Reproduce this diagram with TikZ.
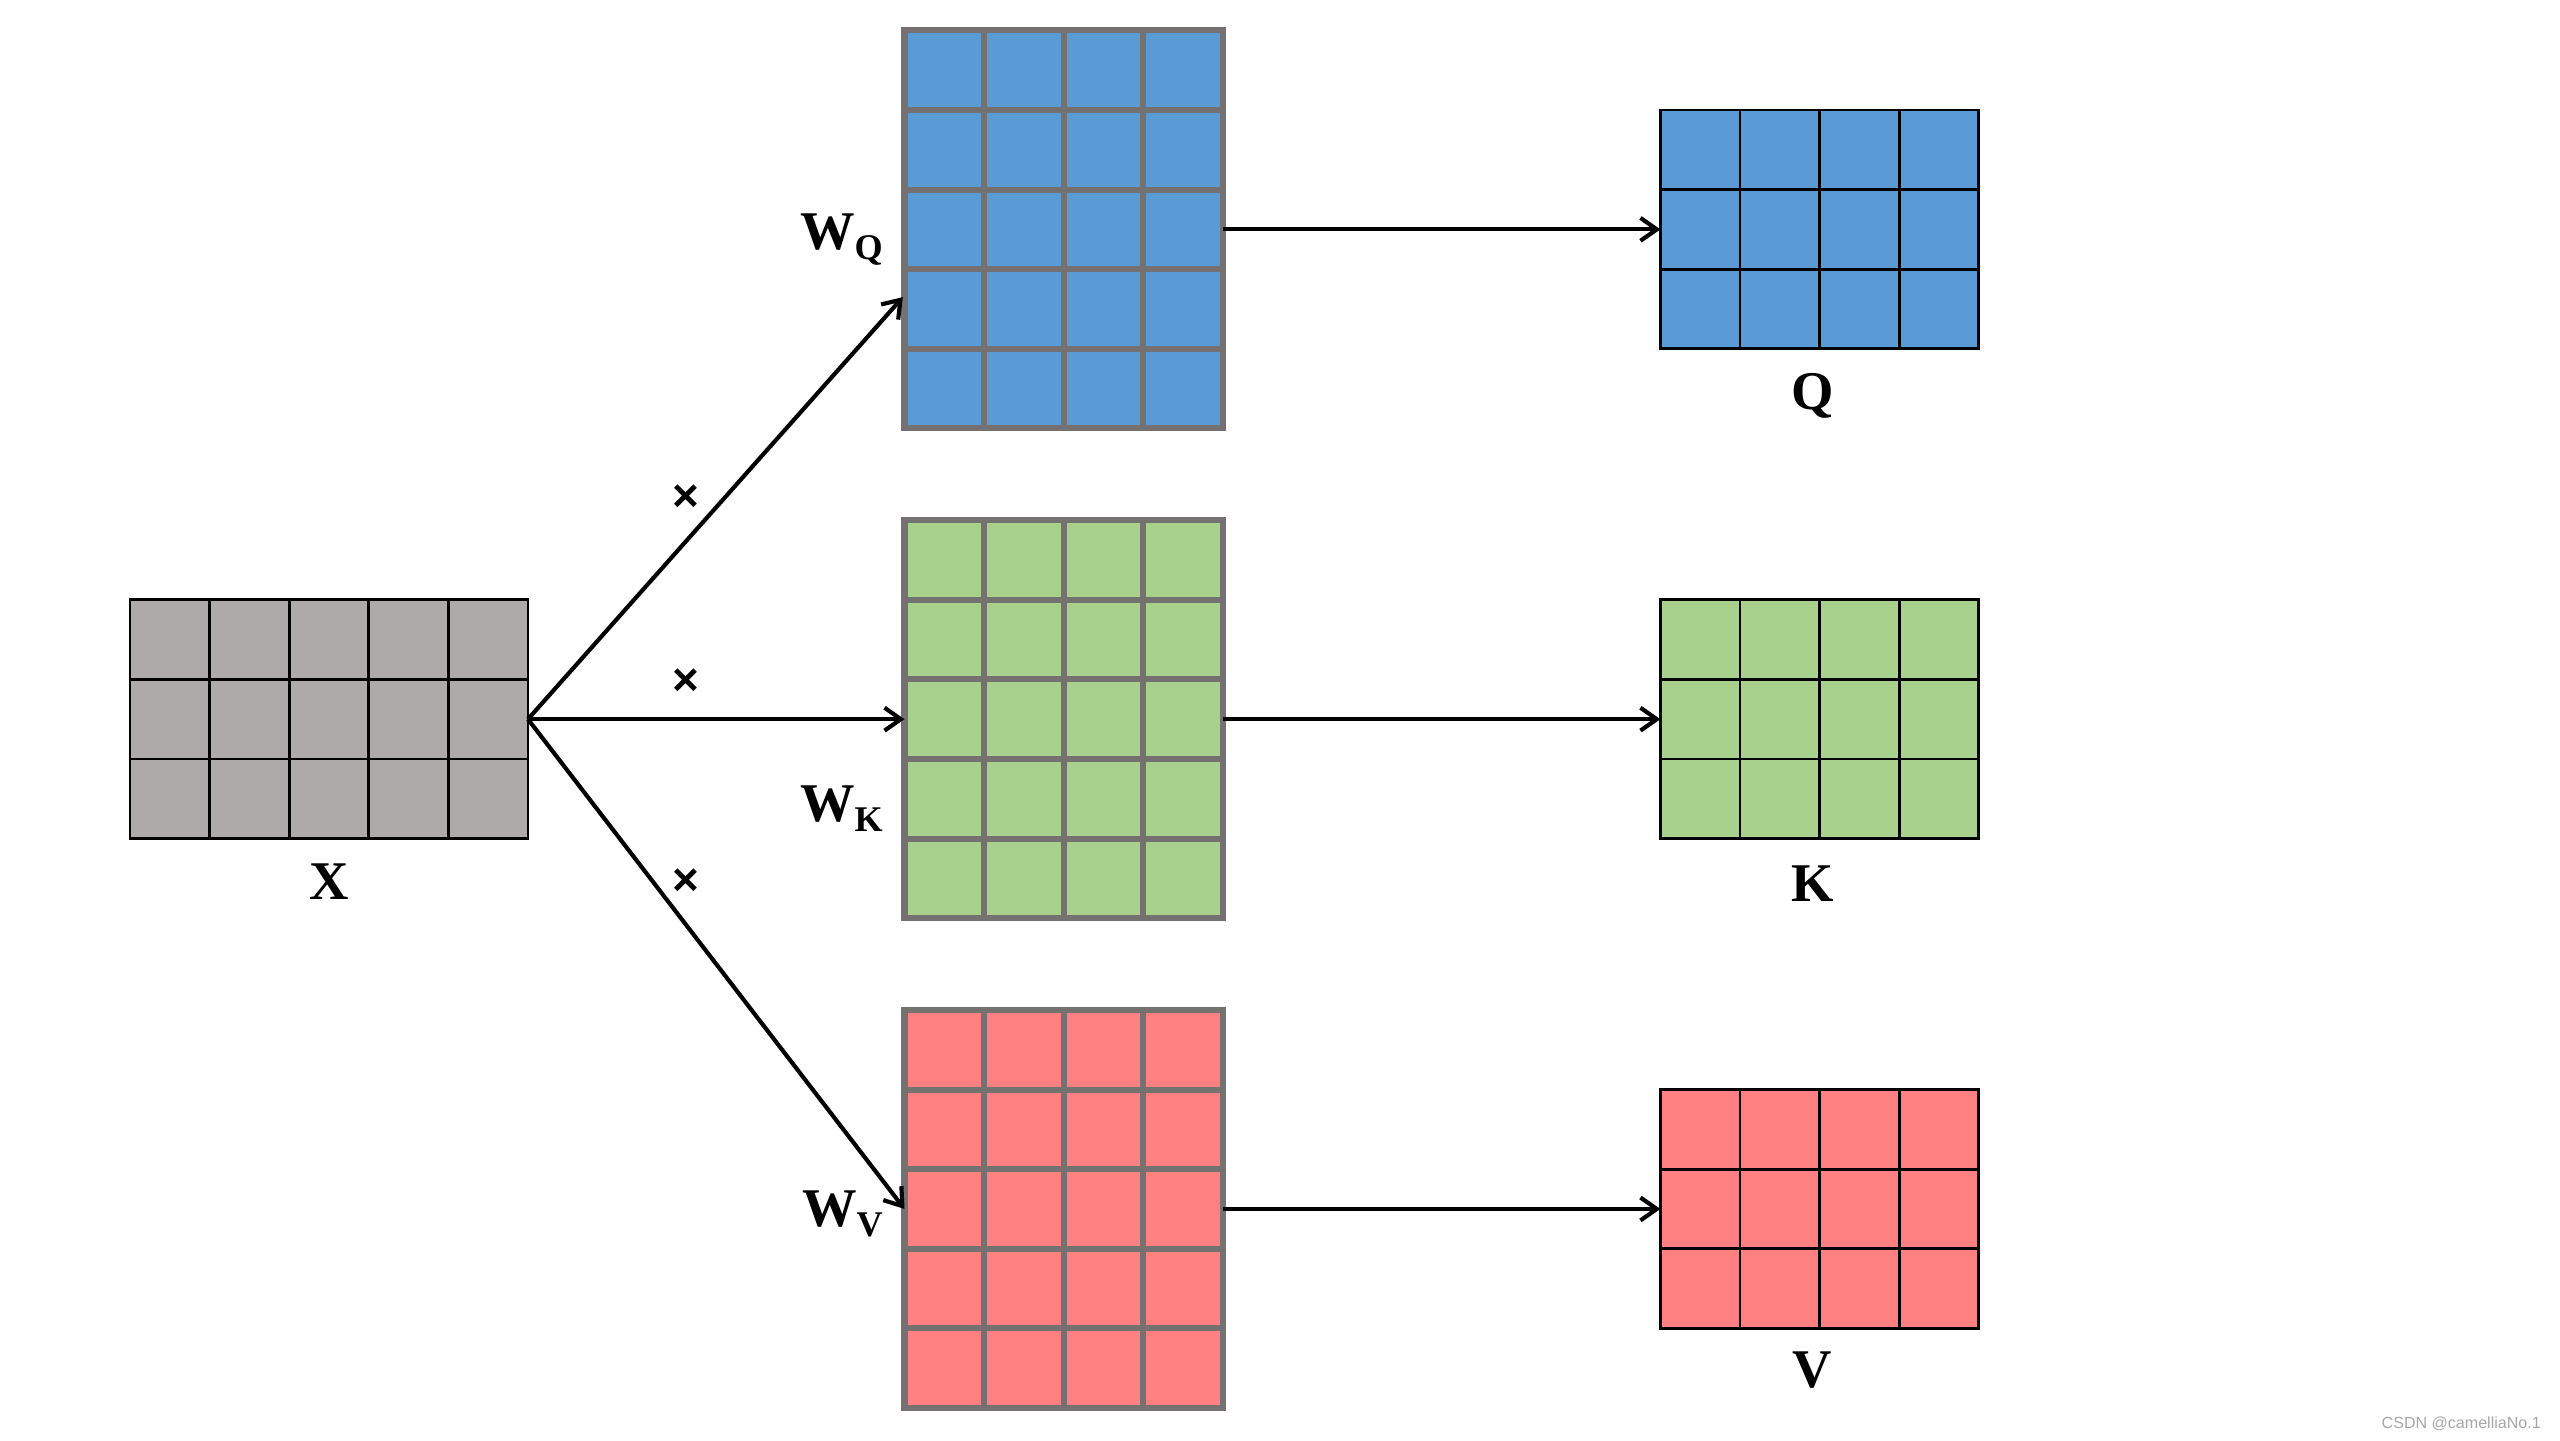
\documentclass[tikz,border=0pt]{standalone}
\usepackage{fontspec}
\setmainfont{Liberation Serif}
\setsansfont{Liberation Sans}
\usepackage{tikz}
\usetikzlibrary{calc,positioning,arrows.meta}

\definecolor{blueQ}{HTML}{5B9BD5}
\definecolor{greenK}{HTML}{A9D18E}
\definecolor{redV}{HTML}{FF8080}
\definecolor{grayX}{HTML}{AEAAAA}
\definecolor{gridgray}{HTML}{767171}
\definecolor{markgray}{HTML}{A6A6A6}

\tikzset{
  mat/.style={rectangle, inner sep=0pt, outer sep=0pt},
  cellW/.style={line width=2.1pt, draw=gridgray},
  cellX/.style={line width=1pt, draw=black},
  lbl/.style={inner sep=0pt, font=\fontsize{19}{23}\selectfont\bfseries},
  mul/.style={inner sep=0pt, font=\fontsize{16}{18}\selectfont\sffamily\bfseries},
  arr/.style={line width=1.45pt, -{Straight Barb[length=2mm,width=2.8mm]}}
}

% grid lines inside a matrix node: #1 node, #2 cols, #3 rows, #4 style
\newcommand{\matgrid}[4]{%
  \foreach \c in {1,...,#2}
    {\draw[#4] ($(#1.north west)!\c/#2!(#1.north east)$) -- ($(#1.south west)!\c/#2!(#1.south east)$);}
  \foreach \r in {1,...,#3}
    {\draw[#4] ($(#1.north west)!\r/#3!(#1.south west)$) -- ($(#1.north east)!\r/#3!(#1.south east)$);}
}
\newcommand{\wsub}[1]{W\raisebox{-0.18em}{\fontsize{12.6}{14}\selectfont #1}}

\begin{document}
\begin{tikzpicture}
  \useasboundingbox (0,0) rectangle (31.36,17.64);

  % input
  \node[mat, cellX, fill=grayX, minimum width=4.875cm, minimum height=2.925cm] (X) at (4.03,8.83) {};
  \matgrid{X}{5}{3}{cellX}

  % weights
  \node[mat, cellW, fill=blueQ, minimum width=3.9cm, minimum height=4.875cm] (WQ) at (13.03,14.83) {};
  \node[mat, cellW, fill=greenK, minimum width=3.9cm, minimum height=4.875cm] (WK) at (13.03,8.83) {};
  \node[mat, cellW, fill=redV, minimum width=3.9cm, minimum height=4.875cm] (WV) at (13.03,2.83) {};
  \foreach \m in {WQ,WK,WV}
    {\matgrid{\m}{4}{5}{cellW}}

  % outputs
  \node[mat, cellX, fill=blueQ, minimum width=3.9cm, minimum height=2.925cm] (Q) at (22.29,14.83) {};
  \node[mat, cellX, fill=greenK, minimum width=3.9cm, minimum height=2.925cm] (K) at (22.29,8.83) {};
  \node[mat, cellX, fill=redV, minimum width=3.9cm, minimum height=2.925cm] (V) at (22.29,2.83) {};
  \foreach \m in {Q,K,V}
    {\matgrid{\m}{4}{3}{cellX}}

  % labels
  \node[lbl, anchor=base] (labX) at ($(X.south)+(0,-0.75)$) {X};
  \node[lbl, anchor=base] (labQ) at ($(Q.south)+(-0.09,-0.75)$) {Q};
  \node[lbl, anchor=base] (labK) at ($(K.south)+(-0.08,-0.77)$) {K};
  \node[lbl, anchor=base] (labV) at ($(V.south)+(-0.09,-0.72)$) {V};
  \node[lbl, anchor=base east] (labWQ) at ($(WQ.west)+(-0.26,-0.25)$) {\wsub{Q}};
  \node[lbl, anchor=base east] (labWK) at ($(WK.west)+(-0.26,-1.25)$) {\wsub{K}};
  \node[lbl, anchor=base east] (labWV) at ($(WV.west)+(-0.26,-0.22)$) {\wsub{V}};

  % products
  \coordinate (inQ) at ($(WQ.west)+(-0.02,-0.83)$);
  \draw[arr] (X.east) -- (inQ);
  \draw[arr] (X.east) -- (WK.west);
  \draw[arr] (X.east) -- (WV.west);
  \node[mul] (mulQ) at (8.4,11.54) {×};
  \node[mul] (mulK) at (8.4,9.28) {×};
  \node[mul] (mulV) at (8.4,6.84) {×};

  \draw[arr] (WQ.east) -- (Q.west);
  \draw[arr] (WK.east) -- (K.west);
  \draw[arr] (WV.east) -- (V.west);

  \node[inner sep=0pt, font=\fontsize{5.6}{6}\selectfont\sffamily, text=markgray] (mark) at (30.15,0.2) {CSDN @camelliaNo.1};
\end{tikzpicture}
\end{document}
